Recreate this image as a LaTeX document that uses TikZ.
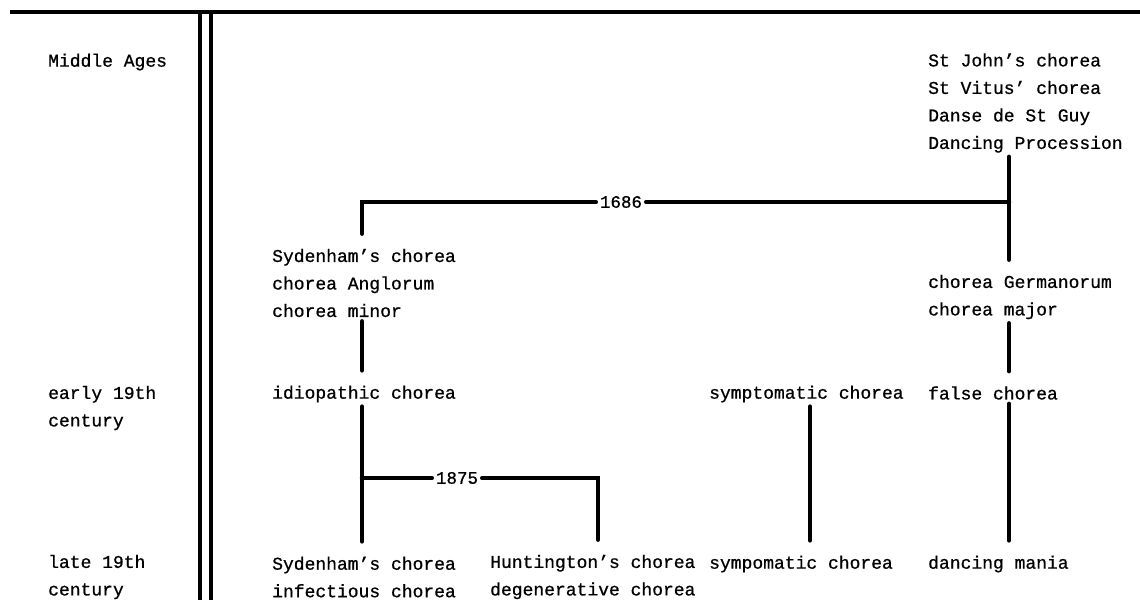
\documentclass[tikz,border=0pt]{standalone}
\usepackage{fontspec}
\newfontfamily\typew{Liberation Mono}[FakeBold=0.8]
\usetikzlibrary{calc}

\begin{document}
\begin{tikzpicture}[
        x=1pt, y=-1pt,
        period label/.style={anchor=west, align=left, inner sep=0pt,
            font=\typew\fontsize{18}{27.5}\selectfont},
        name block/.style={anchor=west, align=left, inner xsep=0pt, inner ysep=4pt,
            font=\typew\fontsize{18}{27.5}\selectfont},
        year label/.style={inner xsep=4pt, inner ysep=0pt,
            font=\typew\fontsize{17.5}{20}\selectfont},
        link line/.style={line width=4.5pt, line cap=round},
        rule line/.style={line width=3.5pt}
    ]
    \useasboundingbox (0,0) rectangle (1140,600);

    % frame: top rule and double column rule
    \coordinate (top left) at (10,12);
    \coordinate (top right) at (1140,12);
    \draw[rule line] (top left) -- (top right);
    \draw[line width=3.5pt] (200,12) -- (200,600);
    \draw[line width=4.5pt] (211,12) -- (211,600);

    % periods
    \node[period label] (middle) at (48,62) {Middle Ages};
    \node[period label] (early) at (48,408) {early 19th\\century};
    \node[period label] (late) at (48,577) {late 19th\\century};

    % names
    \node[name block] (saints) at (928,103) {St John’s chorea\\St Vitus’ chorea\\Danse de St Guy\\Dancing Procession};
    \node[name block] (sydold) at (272,283) {Sydenham’s chorea\\chorea Anglorum\\chorea minor};
    \node[name block] (germ) at (928,297) {chorea Germanorum\\chorea major};
    \node[name block] (idio) at (272,394) {idiopathic chorea};
    \node[name block] (sympt) at (709,394) {symptomatic chorea};
    \node[name block] (false) at (928,393) {false chorea};
    \node[name block] (sydnew) at (272,577) {Sydenham’s chorea\\infectious chorea};
    \node[name block] (hunt) at (490,577) {Huntington’s chorea\\degenerative chorea};
    \node[name block] (sympo) at (709,564) {sympomatic chorea};
    \node[name block] (mania) at (928,564) {dancing mania};

    % years
    \node[year label] (y1686) at (621,202) {1686};
    \node[year label] (y1875) at (457,478) {1875};

    % columns of the links
    \coordinate (lcol) at (362,0);
    \coordinate (hcol) at (598,0);
    \coordinate (scol) at (810,0);
    \coordinate (rcol) at (1009,0);

    \foreach \p/\q/\c in {saints/germ/rcol,germ/false/rcol,false/mania/rcol,
                          sydold/idio/lcol,idio/sydnew/lcol,sympt/sympo/scol} {
        \draw[link line, shorten >=11pt] (\p.south -| \c) -- (\q.north -| \c);
    }
    \draw[link line, shorten >=11pt] (y1686.west) -| (sydold.north -| lcol);
    \draw[link line] (y1686.east) -- (y1686.east -| rcol);
    \draw[link line] (y1875.west) -- (y1875.west -| lcol);
    \draw[link line, shorten >=11pt] (y1875.east) -| (hunt.north -| hcol);
\end{tikzpicture}
\end{document}
